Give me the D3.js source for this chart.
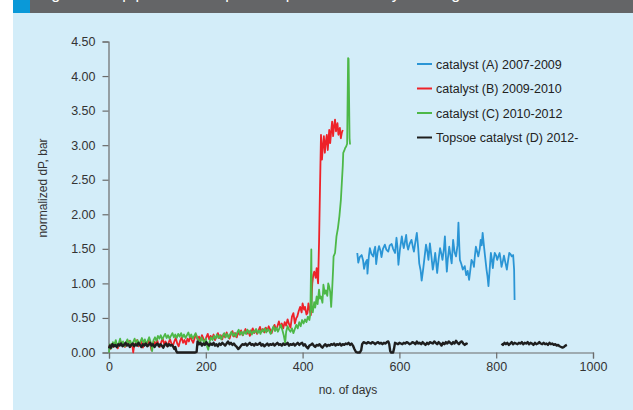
<!DOCTYPE html>
<html><head><meta charset="utf-8">
<script src="https://cdn.jsdelivr.net/npm/d3@7"></script>
<style>
html,body{margin:0;padding:0;background:#fff;}
svg{display:block;}
text{font-family:"Liberation Sans",Arial,sans-serif;}
</style></head>
<body>
<svg id="chart" width="633" height="410"></svg>
<script>
// ---- data ----
const seriesNames = ["catalyst (A) 2007-2009","catalyst (B) 2009-2010","catalyst (C) 2010-2012","Topsoe catalyst (D) 2012-"];
const seriesColors = ["#2a95d5","#ee2229","#4db848","#1e1e1e"];
const yTicks = [0,0.5,1,1.5,2,2.5,3,3.5,4,4.5];
const xTicks = [0,200,400,600,800,1000];

const daysA = [513,515,518,522,525,527,530,533,534,537,539,542,546,548,550,552,555,558,561,563,566,570,573,577,580,584,587,591,594,596,598,601,605,607,609,612,614,616,618,621,625,628,630,633,636,639,641,644,646,649,652,655,658,660,663,666,669,672,674,676,678,681,684,687,689,692,694,696,698,700,703,706,708,711,714,717,720,722,724,725,728,731,735,738,741,744,747,749,752,754,756,758,761,763,766,768,770,772,775,777,780,782,784,787,789,791,793,795,797,800,802,805,807,809,811,814,816,819,822,825,827,830,832,835,837,838];
const valuesA = [1.44,1.30,1.38,1.41,1.33,1.21,1.30,1.34,1.14,1.40,1.51,1.43,1.39,1.48,1.53,1.28,1.45,1.54,1.47,1.38,1.50,1.56,1.49,1.46,1.55,1.57,1.50,1.44,1.66,1.52,1.27,1.48,1.68,1.58,1.51,1.62,1.70,1.55,1.49,1.57,1.63,1.52,1.46,1.60,1.73,1.50,1.29,1.18,1.04,1.20,1.38,1.56,1.45,1.34,1.58,1.40,1.20,1.33,1.44,1.30,1.15,1.35,1.51,1.42,1.34,1.50,1.68,1.40,1.17,1.35,1.53,1.38,1.29,1.63,1.45,1.39,1.55,1.88,1.50,1.34,1.28,1.20,1.25,1.12,1.18,1.05,1.22,1.34,1.30,1.24,1.40,1.53,1.45,1.39,1.50,1.63,1.55,1.73,1.52,1.39,1.20,1.10,0.96,1.25,1.44,1.35,1.22,1.35,1.44,1.40,1.34,1.40,1.44,1.35,1.24,1.33,1.40,1.30,1.20,1.35,1.44,1.42,1.39,1.41,1.20,0.76];

const daysB = [0,3,6,9,12,15,18,21,24,27,30,33,36,39,42,45,48,50,52,55,58,61,64,67,70,73,76,79,82,85,88,90,93,96,99,102,105,108,111,114,117,120,123,126,129,132,135,138,141,144,147,150,153,156,159,162,165,168,171,174,177,180,183,186,189,192,195,198,201,204,207,210,213,216,219,222,225,228,231,234,237,240,243,246,249,252,255,258,261,264,267,270,273,276,279,282,285,288,291,294,297,300,303,306,309,312,315,318,321,324,327,330,333,336,339,342,345,348,351,354,357,360,363,366,369,372,375,378,381,384,387,389,392,395,398,400,403,405,408,410,412,415,417,420,422,424,427,429,432,434,436,438,440,442,444,446,448,450,452,455,457,459,461,463,465,467,469,472,474,477,479,481,483];
const valuesB = [0.10,0.05,0.12,0.08,0.14,0.10,0.06,0.12,0.16,0.10,0.13,0.08,0.15,0.11,0.17,0.09,0.12,0.00,0.10,0.14,0.18,0.09,0.13,0.16,0.07,0.12,0.15,0.10,0.18,0.12,0.03,0.13,0.16,0.10,0.19,0.12,0.08,0.15,0.20,0.12,0.16,0.09,0.14,0.19,0.13,0.10,0.16,0.21,0.13,0.09,0.17,0.22,0.14,0.18,0.12,0.20,0.16,0.24,0.18,0.14,0.21,0.26,0.19,0.23,0.17,0.25,0.20,0.16,0.22,0.27,0.19,0.24,0.20,0.26,0.18,0.23,0.28,0.21,0.25,0.19,0.27,0.22,0.29,0.24,0.20,0.27,0.31,0.23,0.28,0.22,0.30,0.26,0.32,0.25,0.29,0.34,0.27,0.31,0.24,0.30,0.35,0.28,0.33,0.27,0.32,0.37,0.30,0.34,0.29,0.36,0.31,0.38,0.33,0.28,0.35,0.40,0.33,0.38,0.45,0.37,0.42,0.35,0.44,0.39,0.48,0.41,0.36,0.52,0.57,0.42,0.50,0.52,0.60,0.66,0.58,0.71,0.62,0.66,0.55,0.57,0.71,0.60,0.54,1.00,1.12,1.17,1.08,1.22,1.00,1.60,2.40,3.15,2.79,3.00,3.13,2.89,3.05,3.15,2.93,3.22,3.03,3.20,3.34,3.13,3.28,3.37,3.20,3.32,3.15,3.25,3.10,3.18,3.22];

const daysC = [0,2,5,8,11,14,17,20,23,26,29,32,35,38,41,44,47,50,53,56,59,62,65,68,71,74,77,80,83,86,89,92,95,98,101,104,107,110,113,116,119,122,125,128,131,134,137,140,143,146,149,152,155,158,161,164,167,170,173,176,179,182,185,188,191,194,197,200,203,205,208,211,214,217,220,223,226,229,232,235,238,241,244,247,250,253,256,259,262,265,268,271,274,277,280,283,286,289,292,295,298,301,304,307,310,313,316,319,322,325,328,331,334,337,340,343,346,349,352,355,358,361,364,366,369,372,375,378,381,384,387,390,393,396,399,402,405,408,411,414,416,418,419,421,424,426,429,431,434,436,438,441,443,446,448,451,453,455,457,459,461,463,464,467,470,473,476,479,481,483,484,486,488,490,492,494,495,497,498];
const valuesC = [0.00,0.12,0.06,0.15,0.10,0.18,0.08,0.13,0.20,0.11,0.16,0.09,0.14,0.19,0.12,0.17,0.10,0.15,0.20,0.13,0.18,0.11,0.16,0.21,0.14,0.19,0.12,0.17,0.22,0.15,0.02,0.18,0.22,0.17,0.24,0.20,0.25,0.19,0.23,0.27,0.21,0.25,0.20,0.24,0.28,0.22,0.26,0.21,0.27,0.23,0.28,0.22,0.26,0.21,0.25,0.29,0.22,0.26,0.20,0.24,0.28,0.21,0.19,0.12,0.22,0.18,0.14,0.20,0.08,0.04,0.16,0.22,0.18,0.24,0.20,0.26,0.21,0.25,0.19,0.24,0.28,0.22,0.27,0.21,0.26,0.30,0.24,0.28,0.23,0.29,0.33,0.26,0.30,0.25,0.31,0.27,0.33,0.28,0.32,0.26,0.31,0.29,0.34,0.28,0.32,0.27,0.33,0.30,0.35,0.29,0.34,0.31,0.27,0.33,0.38,0.31,0.36,0.30,0.35,0.40,0.33,0.25,0.14,0.30,0.38,0.33,0.30,0.35,0.28,0.34,0.40,0.35,0.44,0.38,0.47,0.42,0.48,0.44,0.52,0.47,0.56,1.49,0.66,0.58,0.73,0.65,0.81,0.70,0.91,0.78,0.81,0.72,0.98,0.85,0.90,0.82,1.00,0.95,0.88,0.66,0.90,1.20,1.39,1.44,1.68,1.80,1.97,2.20,2.45,2.70,2.89,2.92,2.96,2.98,3.02,4.26,4.25,3.10,3.01];

const daysD = [0,2,4,7,10,13,16,19,22,25,28,31,34,37,40,43,46,49,52,55,58,61,64,67,70,73,76,79,82,85,88,91,94,97,100,103,106,109,112,115,118,121,124,127,130,133,135,137,139,141,150,160,170,178,181,183,186,189,192,195,198,201,204,207,210,213,216,219,222,225,228,231,234,237,240,243,246,249,252,255,258,261,264,267,270,273,276,279,282,285,288,291,294,297,300,303,306,309,312,315,318,321,324,327,330,333,336,339,342,345,348,351,354,357,360,363,366,369,372,375,378,381,384,387,390,393,396,399,402,405,408,411,414,417,420,423,426,429,432,435,438,441,444,447,450,453,456,459,462,465,468,471,474,477,480,483,486,489,492,495,498,501,504,507,510,513,518,521,523,526,529,532,535,538,541,544,547,550,553,556,559,562,565,568,571,574,577,579,581,583,587,589,591,594,597,600,603,606,609,612,615,618,621,624,627,630,633,636,639,642,645,648,651,654,657,660,663,666,669,672,675,678,681,684,687,690,693,696,699,702,705,708,711,714,717,720,723,726,729,732,735,738,741,770,811,814,817,820,823,826,829,832,835,838,841,844,847,850,853,856,859,862,865,868,871,874,877,880,883,886,889,892,895,898,901,904,907,910,913,916,919,922,925,928,931,934,937,940,943,946];
const valuesD = [0.06,0.10,0.07,0.12,0.09,0.11,0.08,0.12,0.10,0.13,0.09,0.11,0.14,0.10,0.12,0.08,0.11,0.13,0.09,0.12,0.10,0.14,0.11,0.08,0.12,0.10,0.13,0.09,0.11,0.14,0.10,0.12,0.08,0.11,0.13,0.09,0.12,0.10,0.07,0.11,0.13,0.09,0.12,0.10,0.11,0.08,0.05,0.08,0.02,0.00,0.00,0.00,0.00,0.00,0.01,0.16,0.12,0.14,0.10,0.13,0.11,0.15,0.12,0.10,0.13,0.11,0.14,0.10,0.12,0.09,0.13,0.11,0.14,0.12,0.10,0.13,0.16,0.12,0.14,0.11,0.13,0.10,0.08,0.05,0.07,0.10,0.12,0.11,0.13,0.10,0.12,0.14,0.11,0.12,0.10,0.13,0.11,0.12,0.14,0.10,0.12,0.09,0.11,0.13,0.10,0.12,0.11,0.13,0.10,0.12,0.14,0.11,0.12,0.10,0.13,0.11,0.12,0.14,0.10,0.12,0.11,0.13,0.10,0.12,0.14,0.11,0.13,0.14,0.10,0.12,0.08,0.06,0.10,0.11,0.13,0.10,0.08,0.11,0.10,0.12,0.09,0.07,0.10,0.12,0.09,0.11,0.10,0.12,0.11,0.13,0.10,0.12,0.11,0.13,0.10,0.12,0.11,0.13,0.12,0.14,0.11,0.13,0.10,0.05,0.01,0.00,0.00,0.03,0.12,0.15,0.14,0.13,0.15,0.14,0.13,0.15,0.14,0.12,0.14,0.15,0.13,0.14,0.12,0.14,0.13,0.15,0.16,0.12,0.02,0.00,0.00,0.06,0.14,0.13,0.12,0.14,0.13,0.12,0.14,0.13,0.15,0.14,0.12,0.13,0.15,0.14,0.12,0.16,0.13,0.14,0.12,0.15,0.13,0.11,0.14,0.12,0.15,0.14,0.13,0.16,0.14,0.12,0.15,0.13,0.10,0.14,0.12,0.15,0.13,0.16,0.14,0.12,0.15,0.13,0.17,0.14,0.12,0.15,0.16,0.13,0.11,0.13,0.12,null,0.13,0.11,0.14,0.12,0.14,0.11,0.13,0.15,0.12,0.14,0.13,0.12,0.14,0.13,0.15,0.12,0.14,0.13,0.15,0.12,0.14,0.13,0.11,0.14,0.12,0.13,0.15,0.13,0.12,0.14,0.12,0.13,0.11,0.14,0.12,0.13,0.11,0.12,0.10,0.11,0.09,0.08,0.07,0.08,0.10,0.11];

// ---- drawing ----
const svg = d3.select("#chart");
const W = 633, H = 410;
svg.append("rect").attr("x",13).attr("y",0).attr("width",W-13).attr("height",H).attr("fill","#d3edf9");
svg.append("rect").attr("x",13).attr("y",0).attr("width",W-13).attr("height",13).attr("fill","#646567");
svg.append("rect").attr("x",13).attr("y",0).attr("width",17).attr("height",13).attr("fill","#0a99d8");
svg.append("text").attr("x",38).attr("y",-1).attr("fill","#fff").attr("font-size",16)
  .text("Figure 3. Top pressure drop development for catalyst changes");

const x = d3.scaleLinear().domain([0,1000]).range([109,593]);
const y = d3.scaleLinear().domain([0,4.5]).range([352.5,41.5]);

const gx = svg.append("g").attr("transform","translate(0,352.5)")
  .call(d3.axisBottom(x).tickValues(xTicks).tickSize(6).tickPadding(4).tickFormat(d3.format("d")));
const gy = svg.append("g").attr("transform","translate(108.5,0)")
  .call(d3.axisLeft(y).tickValues(yTicks).tickSize(6).tickPadding(7).tickFormat(d3.format(".2f")));
[gx,gy].forEach(g=>{
  g.selectAll("path,line").attr("stroke","#6b6b6b").attr("stroke-width",1.2);
  g.selectAll("text").attr("fill","#333").attr("font-size",12.5).attr("font-family","'Liberation Sans',Arial,sans-serif");
});

svg.append("text").attr("x",348).attr("y",394).attr("text-anchor","middle")
  .attr("font-size",12).attr("fill","#333").text("no. of days");
svg.append("text").attr("transform","translate(47,188) rotate(-90)").attr("text-anchor","middle")
  .attr("font-size",12).attr("fill","#333").text("normalized dP, bar");

const line = d3.line().defined(d=>d[1]!==null).x(d=>x(d[0])).y(d=>y(d[1]));
function zip(a,b){return a.map((d,i)=>[d,b[i]]);}
const series = [
  {data: zip(daysB,valuesB), color: seriesColors[1], w: 1.8},
  {data: zip(daysC,valuesC), color: seriesColors[2], w: 1.8},
  {data: zip(daysA,valuesA), color: seriesColors[0], w: 1.8},
  {data: zip(daysD,valuesD), color: seriesColors[3], w: 2.4}
];
series.forEach(s=>{
  svg.append("path").datum(s.data).attr("d",line).attr("fill","none")
    .attr("stroke",s.color).attr("stroke-width",s.w).attr("stroke-linejoin","round");
});

// legend
const legY = [64,88.5,113,137.5];
seriesNames.forEach((n,i)=>{
  svg.append("line").attr("x1",417).attr("x2",432).attr("y1",legY[i]).attr("y2",legY[i])
    .attr("stroke",seriesColors[i]).attr("stroke-width",2);
  svg.append("text").attr("x",436).attr("y",legY[i]+4.5).attr("font-size",12.5).attr("fill","#222").text(n);
});
</script>
</body></html>
